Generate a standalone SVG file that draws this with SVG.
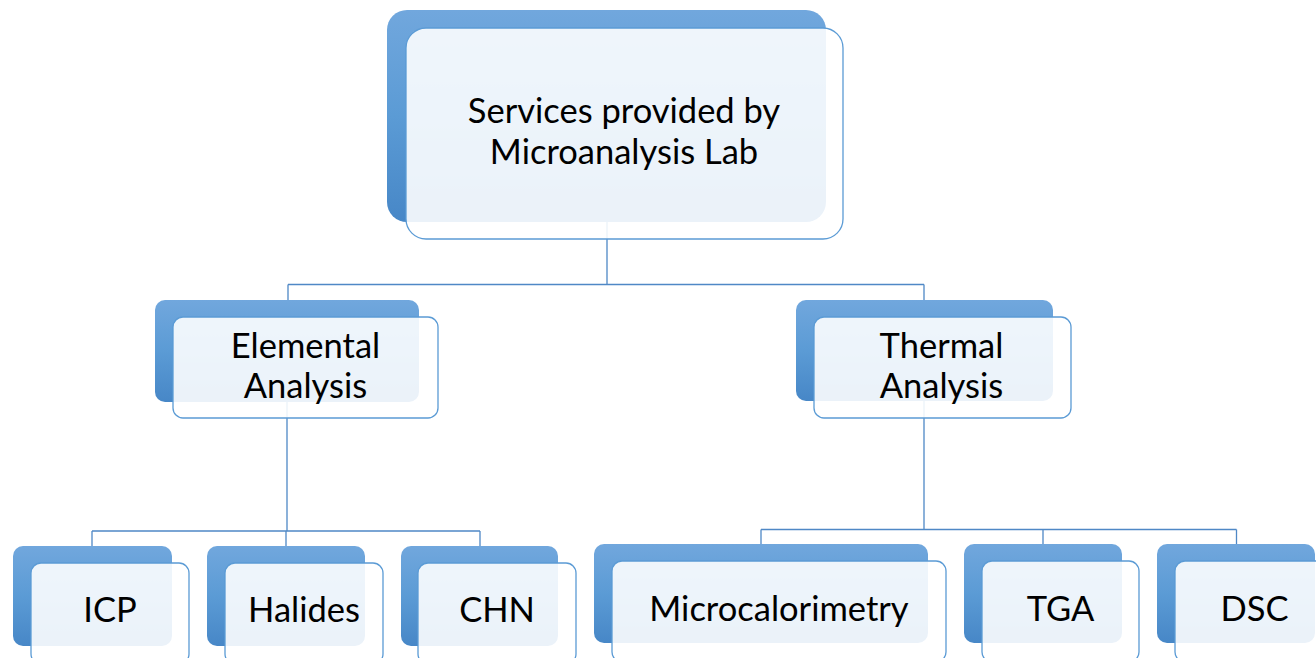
<svg xmlns="http://www.w3.org/2000/svg" width="1316" height="658" viewBox="0 0 1316 658">
  <defs>
    <linearGradient id="blueGrad" x1="0" y1="0" x2="0" y2="1">
      <stop offset="0" stop-color="#71A7DD"/>
      <stop offset="0.5" stop-color="#5B9BD5"/>
      <stop offset="1" stop-color="#4787C7"/>
    </linearGradient>
    <style>
      .back { fill: url(#blueGrad); }
      .front { fill: #FFFFFF; fill-opacity: 0.89; stroke: #5B9BD5; stroke-width: 1.3; }
      .conn { fill: none; stroke: #4F88C6; stroke-width: 1.3; }
      .lbl { font-family: Lato, "Open Sans", "Liberation Sans", sans-serif; font-size: 34.5px; fill: #000000; text-anchor: middle; }
    </style>
  </defs>
  <rect width="1316" height="658" fill="#FFFFFF"/>

  <g id="connectors">
    <path class="conn" d="M607,221 V284.5 M288,284.5 H924 M288,284.5 V300 M924,284.5 V300"/>
    <path class="conn" d="M287,401 V531 M92,531 H480 M92,531 V546 M286,531 V546 M480,531 V546"/>
    <path class="conn" d="M924,400 V529.5 M761,529.5 H1236.5 M761,529.5 V544 M1043,529.5 V544 M1236.5,529.5 V544"/>
  </g>

  <g id="root">
    <rect class="back" x="387" y="10" width="439" height="212" rx="20"/>
    <rect class="front" x="406" y="28" width="437" height="211" rx="20"/>
    <text class="lbl" x="624" y="123">Services provided by</text>
    <text class="lbl" x="624" y="164">Microanalysis Lab</text>
  </g>

  <g id="elemental">
    <rect class="back" x="155" y="300" width="264" height="102" rx="10"/>
    <rect class="front" x="173" y="317" width="265" height="101" rx="10"/>
    <text class="lbl" x="305.5" y="358">Elemental</text>
    <text class="lbl" x="305.5" y="398">Analysis</text>
  </g>

  <g id="thermal">
    <rect class="back" x="796" y="300" width="257" height="101" rx="10"/>
    <rect class="front" x="814" y="317" width="257" height="101" rx="10"/>
    <text class="lbl" x="941.5" y="358">Thermal</text>
    <text class="lbl" x="941.5" y="398">Analysis</text>
  </g>

  <g id="icp">
    <rect class="back" x="13" y="546" width="159" height="100" rx="10"/>
    <rect class="front" x="31" y="563" width="158" height="101" rx="10"/>
    <text class="lbl" x="110" y="622">ICP</text>
  </g>

  <g id="halides">
    <rect class="back" x="207" y="546" width="158" height="100" rx="10"/>
    <rect class="front" x="225" y="563" width="158" height="101" rx="10"/>
    <text class="lbl" x="304" y="622">Halides</text>
  </g>

  <g id="chn">
    <rect class="back" x="401" y="546" width="157" height="100" rx="10"/>
    <rect class="front" x="418" y="563" width="158" height="101" rx="10"/>
    <text class="lbl" x="497" y="622">CHN</text>
  </g>

  <g id="microcalorimetry">
    <rect class="back" x="594" y="544" width="334" height="99" rx="10"/>
    <rect class="front" x="612" y="561" width="334" height="101" rx="10"/>
    <text class="lbl" x="779" y="621">Microcalorimetry</text>
  </g>

  <g id="tga">
    <rect class="back" x="964" y="544" width="158" height="99" rx="10"/>
    <rect class="front" x="982" y="561" width="157" height="101" rx="10"/>
    <text class="lbl" x="1060.5" y="621">TGA</text>
  </g>

  <g id="dsc">
    <rect class="back" x="1157" y="544" width="158" height="99" rx="10"/>
    <rect class="front" x="1175" y="561" width="158" height="101" rx="10"/>
    <text class="lbl" x="1254.5" y="621">DSC</text>
  </g>
</svg>
